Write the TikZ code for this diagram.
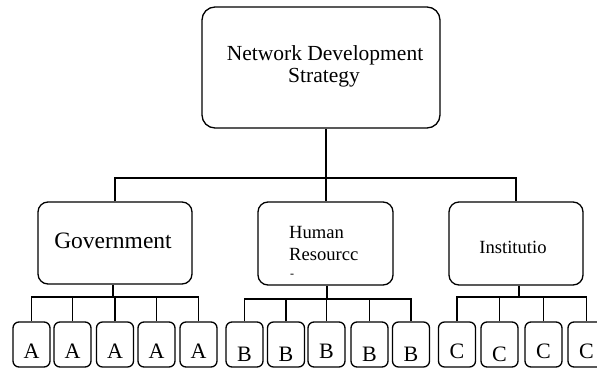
\documentclass[tikz,border=0pt]{standalone}
\usepackage{fontspec}
\setmainfont{Liberation Serif}
\begin{document}
\begin{tikzpicture}[x=1pt,y=-1pt,
  box/.style={draw, line width=1.3pt, rounded corners=#1, inner sep=0pt},
  box/.default=10pt,
  conn/.style={line width=1.2pt},
  lbl/.style={inner sep=0pt, anchor=base},
  lblw/.style={inner sep=0pt, anchor=base west},
  big/.style={font=\fontsize{21.5}{23}\selectfont},
  mid/.style={font=\fontsize{18.6}{20}\selectfont},
  gov/.style={font=\fontsize{23.5}{25}\selectfont},
  let/.style={font=\fontsize{22}{24}\selectfont}]
\useasboundingbox (0,0) rectangle (597,370);
% top box
\node[box=13pt, minimum width=238pt, minimum height=121pt] (top) at (321,67.5) {};
\node[lbl, big] (t1) at (325,60) {Network Development};
\node[lbl, big] (t2) at (324,82) {Strategy};
% middle boxes
\node[box=10pt, minimum width=154pt, minimum height=82pt] (gov) at (115,243) {};
\node[lbl, gov] (tgov) at (113,248) {Government};
\node[box=10pt, minimum width=135pt, minimum height=83pt] (hr) at (325.5,243.5) {};
\node[lblw, mid] (thr1) at (289,238) {Human};
\node[lblw, mid] (thr2) at (289,260) {Resourcc};
\node[lblw, font=\fontsize{12}{13}\selectfont] (thr3) at (290,277) {-};
\node[box=10pt, minimum width=134pt, minimum height=83pt] (inst) at (516,243.5) {};
\node[lbl, mid] (tinst) at (513,253) {Institutio};
% level 1 connectors
\coordinate (tj) at (326,178);
\draw[conn] (top.south -| tj) -- (tj);
\draw[conn] (gov.north) |- (tj) -| (inst.north);
\draw[conn] (tj) -- (hr.north -| tj);
% bottom boxes
\foreach \n/\x in {1/31.5,2/72.5,3/115,4/156.5,5/198.5}{
  \node[box=6pt, minimum width=37pt, minimum height=45pt] (a\n) at (\x,344.5) {};
  \node[lbl, let] (ta\n) at (\x,358) {A};
}
\foreach \n/\x/\b in {1/244.5/361,2/286/361,3/326.5/358,4/369.5/361,5/411/361}{
  \node[box=6pt, minimum width=37pt, minimum height=45pt] (b\n) at (\x,344.5) {};
  \node[lbl, let] (tb\n) at (\x,\b) {B};
}
\foreach \n/\x/\b in {1/457/358,2/499.5/361,3/543.5/358,4/586.5/358}{
  \node[box=6pt, minimum width=37pt, minimum height=45pt] (c\n) at (\x,344.5) {};
  \node[lbl, let] (tc\n) at (\x,\b) {C};
}
% level 2 connectors
\coordinate (ga) at (113,297);
\draw[conn] (gov.south -| ga) -- (ga);
\draw[conn] (a1.north) |- (ga) -| (a5.north);
\foreach \n in {2,3,4}{\draw[conn] (a\n.north) -- (a\n.north |- ga);}
\coordinate (hb) at (327,299);
\draw[conn] (hr.south -| hb) -- (hb);
\draw[conn] (b1.north) |- (hb) -| (b5.north);
\foreach \n in {2,3,4}{\draw[conn] (b\n.north) -- (b\n.north |- hb);}
\coordinate (ic) at (519,297);
\draw[conn] (inst.south -| ic) -- (ic);
\draw[conn] (c1.north) |- (ic) -| (c4.north);
\foreach \n in {2,3}{\draw[conn] (c\n.north) -- (c\n.north |- ic);}
\end{tikzpicture}
\end{document}
